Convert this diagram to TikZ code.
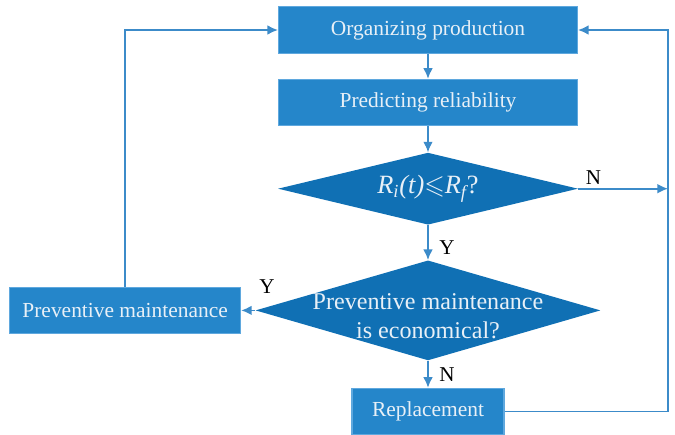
\documentclass[tikz,border=0pt]{standalone}
\usepackage{amsmath,amssymb}
\usepackage{fontspec}
\setmainfont{Liberation Serif}
\usetikzlibrary{arrows.meta,positioning,shapes.geometric}
\definecolor{boxblue}{RGB}{37,134,202}
\definecolor{diablue}{RGB}{16,112,180}
\definecolor{edgeblue}{RGB}{95,168,222}
\definecolor{lineblue}{RGB}{60,139,201}
\definecolor{paletext}{RGB}{232,240,247}
\newcommand{\flatbox}[1]{\makebox[0pt]{\smash{\raisebox{-8pt}{\begin{tabular}{@{}c@{}}#1\end{tabular}}}}}

\begin{document}
\begin{tikzpicture}[
    node distance=0.5cm,
    block/.style={draw=edgeblue, fill=boxblue, line width=0.6pt,
                  minimum height=0.93cm, align=center, text=paletext,
                  font=\fontsize{12.2}{14}\selectfont},
    decision/.style={diamond, fill=diablue, inner sep=0pt,
                     align=center, text=paletext},
    arrow/.style={-{Latex[length=6pt,width=5.5pt]}, draw=lineblue,
                  line width=0.95pt},
    yn/.style={font=\fontsize{12}{14}\selectfont, inner sep=2pt},
]
  \useasboundingbox (0,0) rectangle (13.5,-8.68);

  % Flow nodes
  \node[block, minimum width=5.98cm] (org) at (8.56,-0.6)
    {Organizing production};
  \node[block, minimum width=5.98cm, below=0.5cm of org] (pred)
    {Predicting reliability};

  % Decisions
  \node[decision, minimum width=6cm, minimum height=1.44cm, aspect=4.2,
        below=0.52cm of pred, font=\fontsize{15}{17}\selectfont] (check)
    {\textit{R\textsubscript{i}(t)}$\leqslant$\textit{R\textsubscript{f}}?};
  \node[decision, minimum width=6.9cm, minimum height=2cm,
        below=0.7cm of check, font=\fontsize{13.7}{16.4}\selectfont] (econ)
    {\flatbox{Preventive maintenance\\is economical?}};

  % Outcomes
  \node[block, minimum width=3.04cm, below=0.54cm of econ] (repl)
    {Replacement};
  \node[block, minimum width=4.62cm, left=0.28cm of econ] (prev)
    {Preventive maintenance};
  \coordinate (rail) at (13.36,0);

  % Arrows
  \draw[arrow] (org) -- (pred);
  \draw[arrow] (pred) -- (check);
  \draw[arrow] (check) -- (econ)
    node[yn, right, pos=0.65, xshift=4pt] {Y};
  \draw[arrow] (check.east) -- (check.east -| rail)
    node[yn, above, pos=0.17] {N};
  \draw[arrow] (econ.west) -- (prev.east)
    node[yn, above right, pos=0, yshift=7pt] {Y};
  \draw[arrow] (econ) -- (repl)
    node[yn, right, midway, xshift=4pt] {N};
  \draw[arrow] (repl.east) -- (repl.east -| rail) |- (org.east);
  \draw[arrow] (prev.north) |- (org.west);
\end{tikzpicture}
\end{document}
